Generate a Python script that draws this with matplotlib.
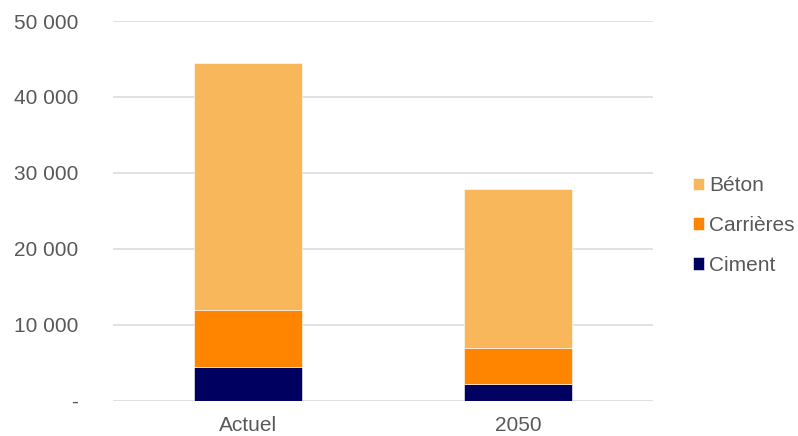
import matplotlib.pyplot as plt
import numpy as np
from matplotlib.ticker import FuncFormatter

categories = ["Actuel", "2050"]
ciment = [4450, 2130]
carrieres = [7450, 4820]
beton = [32600, 20950]

plt.rcParams['font.family'] = ['Liberation Sans', 'DejaVu Sans']
text_color = "#595959"

fig = plt.figure(figsize=(7.98, 4.36), dpi=100)
ax = fig.add_axes([0.1416, 0.0814, 0.6767, 0.8704])

x = np.arange(len(categories))
w = 0.4
ax.bar(x, ciment, w, color="#000060", label="Ciment", edgecolor="white", linewidth=0.4, zorder=3)
ax.bar(x, carrieres, w, bottom=ciment, color="#FF8500", label="Carrières",
       edgecolor="white", linewidth=0.4, zorder=3)
bottom2 = np.add(ciment, carrieres)
ax.bar(x, beton, w, bottom=bottom2, color="#F8B75A", label="Béton",
       edgecolor="white", linewidth=0.4, zorder=3)

ax.set_xlim(-0.5, 1.5)
ax.set_ylim(0, 50000)
ax.set_yticks(range(0, 50001, 10000))
ax.yaxis.set_major_formatter(FuncFormatter(
    lambda v, p: "-" if v == 0 else f"{int(v):,}".replace(",", " ")))
ax.set_xticks(x)
ax.set_xticklabels(categories)

ax.grid(axis="y", color="#D9D9D9", linewidth=1.1, zorder=0)
for s in ax.spines.values():
    s.set_visible(False)
ax.tick_params(length=0, labelsize=15, colors=text_color)
ax.tick_params(axis="y", pad=25)
ax.tick_params(axis="x", pad=11)

h, l = ax.get_legend_handles_labels()
leg = ax.legend(h[::-1], l[::-1], loc="center left", bbox_to_anchor=(1.058, 0.461),
                frameon=False, fontsize=15, handlelength=0.55, handleheight=0.55,
                handletextpad=0.25, labelspacing=1.0, borderaxespad=0)
for t in leg.get_texts():
    t.set_color(text_color)

fig.savefig("out.png", dpi=100)
